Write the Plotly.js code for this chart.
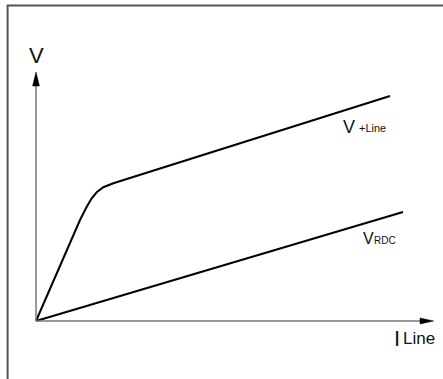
<!DOCTYPE html>
<html>
<head>
<meta charset="utf-8">
<script src="https://cdn.plot.ly/plotly-3.0.1.min.js"></script>
<style>html,body{margin:0;padding:0;background:#fff;}#chart{width:443px;height:379px;}</style>
</head>
<body>
<div id="chart"></div>
<script>
// V+Line curve (current vs voltage, arbitrary units)
const vLineX = [0, 11, 12.68, 13.93, 15.18, 16.83, 19.33, 22.68, 88.5];
const vLineY = [0, 40.4, 45.7, 49.1, 51.5, 53.5, 55.1, 56.8, 90];
// V_RDC line
const vRdcX = [0, 91.75];
const vRdcY = [0, 43.6];
// labels
const labels = {
  yAxis: "V",
  xMain: "I",
  xSub: "Line",
  vLineMain: "V",
  vLineSub: "+Line",
  vRdcMain: "V",
  vRdcSub: "RDC"
};

const font = "Liberation Sans, Arial, sans-serif";
const ink = "#111";
const axisCol = "#777";

const traces = [
  {x: vLineX, y: vLineY, mode: "lines", line: {color: "#000", width: 2, shape: "linear"}, hoverinfo: "skip"},
  {x: vRdcX, y: vRdcY, mode: "lines", line: {color: "#000", width: 2}, hoverinfo: "skip"}
];

const layout = {
  width: 443, height: 379,
  margin: {l: 0, r: 0, t: 0, b: 0},
  paper_bgcolor: "#fff", plot_bgcolor: "#fff",
  showlegend: false,
  xaxis: {range: [-9, 101.75], visible: false, fixedrange: true},
  yaxis: {range: [-23.2, 128.4], visible: false, fixedrange: true},
  shapes: [
    // frame (only top and left visible)
    {type: "rect", xref: "x", yref: "y", x0: -7.1, x1: 200, y0: -200, y1: 126.2, line: {color: "#555", width: 2}, layer: "below"},
    // y axis
    {type: "line", x0: 0, x1: 0, y0: 0, y1: 95, line: {color: axisCol, width: 1.5}},
    {type: "path", path: "M -0.85,94 L 0.85,94 L 0,99.6 Z", fillcolor: "#000", line: {color: "#000", width: 0.5}},
    // x axis
    {type: "line", x0: 0, x1: 96.5, y0: 0, y1: 0, line: {color: axisCol, width: 1.5}},
    {type: "path", path: "M 96,-1.2 L 96,1.2 L 99.4,0 Z", fillcolor: "#000", line: {color: "#000", width: 0.5}}
  ],
  annotations: [
    {x: 0.2, y: 106.4, xref: "x", yref: "y", text: labels.yAxis, showarrow: false, xanchor: "center", yanchor: "middle", font: {family: font, size: 22, color: ink}},
    {x: 88.9, y: -6.8, xref: "x", yref: "y", text: labels.xMain, showarrow: false, xanchor: "left", yanchor: "middle", font: {family: font, size: 22, color: ink}},
    {x: 91.2, y: -7.0, xref: "x", yref: "y", text: labels.xSub, showarrow: false, xanchor: "left", yanchor: "middle", font: {family: font, size: 17, color: ink}},
    {x: 76.3, y: 77.6, xref: "x", yref: "y", text: labels.vLineMain, showarrow: false, xanchor: "left", yanchor: "middle", font: {family: font, size: 18, color: ink}},
    {x: 80.3, y: 77.2, xref: "x", yref: "y", text: labels.vLineSub, showarrow: false, xanchor: "left", yanchor: "middle", font: {family: font, size: 11, color: ink}},
    {x: 81.3, y: 33.0, xref: "x", yref: "y", text: labels.vRdcMain, showarrow: false, xanchor: "left", yanchor: "middle", font: {family: font, size: 16, color: ink}},
    {x: 84.1, y: 32.4, xref: "x", yref: "y", text: labels.vRdcSub, showarrow: false, xanchor: "left", yanchor: "middle", font: {family: font, size: 10, color: ink}}
  ]
};

Plotly.newPlot("chart", traces, layout, {displayModeBar: false, staticPlot: true});
</script>
</body>
</html>
